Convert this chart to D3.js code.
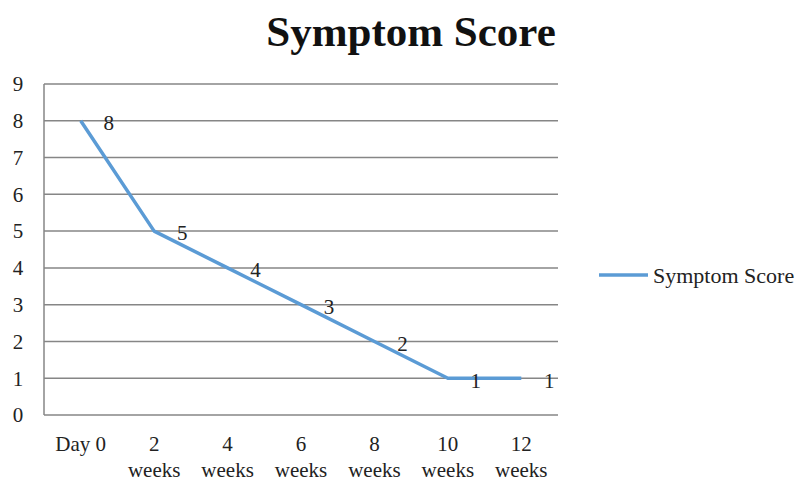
<!DOCTYPE html>
<html><head><meta charset="utf-8">
<script src="https://cdn.jsdelivr.net/npm/d3@7"></script>
<style>body{margin:0;background:#fff;} svg text{font-family:"Liberation Serif",serif;}</style>
</head><body>
<svg id="c" width="806" height="485"></svg>
<script>
const categories = [["Day 0"],["2","weeks"],["4","weeks"],["6","weeks"],["8","weeks"],["10","weeks"],["12","weeks"]];
const scores = [8,5,4,3,2,1,1];
const yTicks = [0,1,2,3,4,5,6,7,8,9];
const seriesName = "Symptom Score";
const title = "Symptom Score";

(function(){
const svg = d3.select("#c");
const pL=44, pR=558, pT=84, pB=415;
const FS=21;
const x = d3.scaleBand().domain(categories.map((d,i)=>i)).range([pL,pR]);
const y = d3.scaleLinear().domain([0,9]).range([pB,pT]);

svg.append("text").attr("x",411).attr("y",46).attr("text-anchor","middle")
  .attr("font-size",43).attr("font-weight","bold").attr("fill","#111").text(title);

svg.append("g").selectAll("line").data(yTicks).join("line")
  .attr("x1",pL).attr("x2",pR).attr("y1",d=>y(d)).attr("y2",d=>y(d))
  .attr("stroke","#868686").attr("stroke-width",1.5);
svg.append("line").attr("x1",pL).attr("x2",pL).attr("y1",pT).attr("y2",pB)
  .attr("stroke","#868686").attr("stroke-width",1.5);

svg.append("g").selectAll("text").data(yTicks).join("text")
  .attr("x",18).attr("y",d=>y(d)).attr("dy","0.35em").attr("text-anchor","middle")
  .attr("font-size",FS).attr("fill","#222").text(d=>d);

const xl = svg.append("g").selectAll("text").data(categories).join("text")
  .attr("text-anchor","middle").attr("font-size",FS).attr("fill","#222");
xl.each(function(d,i){
  const t=d3.select(this);
  d.forEach((s,j)=>t.append("tspan").attr("x",x(i)+x.bandwidth()/2).attr("y",451+j*26).text(s));
});

const line = d3.line().x((d,i)=>x(i)+x.bandwidth()/2).y(d=>y(d));
svg.append("path").datum(scores).attr("d",line).attr("fill","none")
  .attr("stroke","#5b9bd5").attr("stroke-width",3.5).attr("stroke-linejoin","round");

svg.append("g").selectAll("text").data(scores).join("text")
  .attr("x",(d,i)=>x(i)+x.bandwidth()/2+28).attr("y",d=>y(d)+2).attr("dy","0.35em")
  .attr("text-anchor","middle").attr("font-size",FS).attr("fill","#222").text(d=>d);

svg.append("line").attr("x1",599).attr("x2",648).attr("y1",275).attr("y2",275)
  .attr("stroke","#5b9bd5").attr("stroke-width",3.5);
svg.append("text").attr("x",653).attr("y",275).attr("dy","0.35em").attr("font-size",22)
  .attr("fill","#222").text(seriesName);
})();
</script>
</body></html>
